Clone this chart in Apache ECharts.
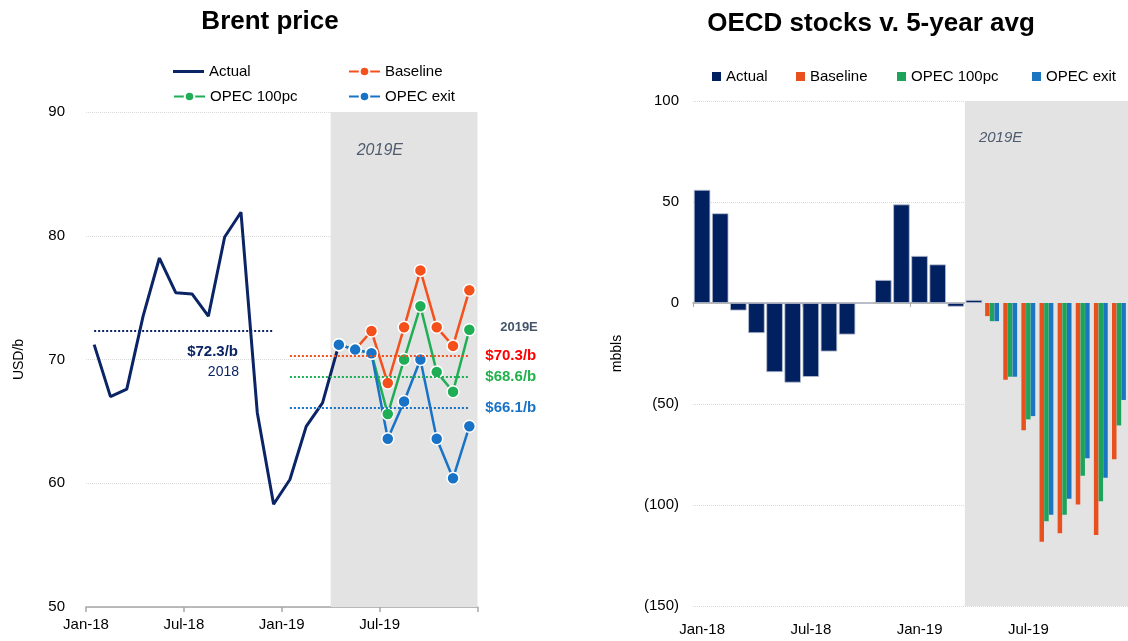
<!DOCTYPE html>
<html>
<head>
<meta charset="utf-8">
<script src="https://cdn.jsdelivr.net/npm/echarts@6/dist/echarts.min.js"></script>
<style>
  html, body { margin: 0; padding: 0; background: #fff; }
  #main { width: 1128px; height: 641px; }
</style>
</head>
<body>
<div id="main"></div>
<script>
var months = ['Jan-18', 'Feb-18', 'Mar-18', 'Apr-18', 'May-18', 'Jun-18', 'Jul-18', 'Aug-18', 'Sep-18', 'Oct-18', 'Nov-18', 'Dec-18',
  'Jan-19', 'Feb-19', 'Mar-19', 'Apr-19', 'May-19', 'Jun-19', 'Jul-19', 'Aug-19', 'Sep-19', 'Oct-19', 'Nov-19', 'Dec-19'];
var tickLabels = ['Jan-18', 'Jul-18', 'Jan-19', 'Jul-19', ''];

// Brent price, USD/b
var brentActual = [71.2, 67.0, 67.6, 73.5, 78.2, 75.4, 75.3, 73.5, 79.9, 81.9, 65.7, 58.3, 60.3, 64.6, 66.5, 71.2];
var brentBaseline = [null, null, null, null, null, null, null, null, null, null, null, null, null, null, null, 71.2, 70.8, 72.3, 68.1, 72.6, 77.2, 72.6, 71.1, 75.6];
var brent100pc = [null, null, null, null, null, null, null, null, null, null, null, null, null, null, null, 71.2, 70.8, 70.5, 65.6, 70.0, 74.3, 69.0, 67.4, 72.4];
var brentExit = [null, null, null, null, null, null, null, null, null, null, null, null, null, null, null, 71.2, 70.8, 70.5, 63.6, 66.6, 70.0, 63.6, 60.4, 64.6];
var avg2018 = 72.3;
var avg2019 = [70.3, 68.6, 66.1];

// OECD stocks v. 5-year avg, mbbls
var stockActual = [56, 44.4, -3.7, -14.9, -34.2, -39.4, -36.6, -24.0, -15.6, 0, 11.4, 48.8, 23.3, 19.1, -1.8, 1.5, null, null, null, null, null, null, null, null];
var stockBaseline = [null, null, null, null, null, null, null, null, null, null, null, null, null, null, null, null, -6.5, -38, -63, -118.2, -114, -99.7, -114.9, -77.4];
var stock100pc = [null, null, null, null, null, null, null, null, null, null, null, null, null, null, null, null, -9, -36.5, -57.6, -108, -104.8, -85.5, -98.2, -60.6];
var stockExit = [null, null, null, null, null, null, null, null, null, null, null, null, null, null, null, null, -9, -36.5, -56, -104.8, -96.9, -76.9, -86.5, -48];

var NAVY = '#0b2466';
var ORANGE = '#f4501c';
var GREEN = '#1fae55';
var BLUE = '#1872c6';
var FONT = 'Liberation Sans, Arial, sans-serif';

function pts(arr) {
  return arr.map(function (v, i) { return [i + 0.5, v]; });
}

function avgLine(v, color, text, labelColor) {
  return {
    silent: true,
    symbol: 'none',
    lineStyle: { color: color, type: 'dotted', width: 2 },
    label: {
      show: !!text, position: 'end', distance: 16, formatter: text || '',
      color: labelColor, fontFamily: FONT, fontSize: 15, fontWeight: 'bold'
    },
    data: [[{ coord: [12.5, v] }, { coord: [23.5, v] }]]
  };
}

function lineLegend(item, left, top, h) {
  return {
    data: [item], left: left, top: top, itemWidth: 31, itemHeight: h || 12,
    textStyle: { fontFamily: FONT, fontSize: 15, color: '#000' }, selectedMode: false
  };
}
function barLegend(name, left) {
  return {
    data: [{ name: name, icon: 'rect' }], left: left, top: 64, itemWidth: 9, itemHeight: 9, itemGap: 5,
    itemStyle: { borderWidth: 0 },
    textStyle: { fontFamily: FONT, fontSize: 15, color: '#000' }, selectedMode: false
  };
}

var chart = echarts.init(document.getElementById('main'));
var lineMarker = { symbol: 'circle', symbolSize: 12 };

var option = {
  animation: false,
  title: [
    { text: 'Brent price', left: 265, top: 4, textAlign: 'center', textStyle: { fontFamily: FONT, fontSize: 26, fontWeight: 'bold', color: '#000' } },
    { text: 'OECD stocks v. 5-year avg', left: 866, top: 6, textAlign: 'center', textStyle: { fontFamily: FONT, fontSize: 26, fontWeight: 'bold', color: '#000' } }
  ],
  legend: [
    lineLegend({ name: 'Actual', icon: 'rect' }, 168, 59, 3),
    lineLegend('Baseline', 343, 59),
    lineLegend('OPEC 100pc', 168, 84),
    lineLegend('OPEC exit', 343, 84),
    barLegend('Actual ', 707),
    barLegend('Baseline ', 791),
    barLegend('OPEC 100pc ', 892),
    barLegend('OPEC exit ', 1027)
  ],
  grid: [
    { left: 86, top: 112, width: 391.5, height: 495 },
    { left: 693, top: 101, width: 435, height: 505 }
  ],
  xAxis: [
    {
      type: 'value', gridIndex: 0, min: 0, max: 24, interval: 6,
      axisLine: { lineStyle: { color: '#a6a6a6', width: 1.5 } },
      axisTick: { show: true, length: 5, lineStyle: { color: '#a6a6a6', width: 1.5 } },
      splitLine: { show: false },
      axisLabel: {
        fontFamily: FONT, fontSize: 15, color: '#000', margin: 10, showMaxLabel: true,
        formatter: function (v) { return tickLabels[Math.round(v / 6)]; }
      }
    },
    {
      type: 'category', gridIndex: 1, data: months, position: 'bottom',
      axisLine: { onZero: true, lineStyle: { color: '#a6a6a6', width: 1.5 } },
      axisTick: { show: true, interval: 5, length: 4, lineStyle: { color: '#a6a6a6' } },
      axisLabel: { show: false }
    },
    {
      type: 'category', gridIndex: 1, data: months, position: 'bottom',
      axisLine: { show: false, onZero: false },
      axisTick: { show: false },
      axisLabel: { interval: 5, fontFamily: FONT, fontSize: 15, color: '#000', margin: 16 }
    },
    { type: 'value', gridIndex: 1, min: 0, max: 24, show: false }
  ],
  yAxis: [
    {
      type: 'value', gridIndex: 0, min: 50, max: 90, interval: 10,
      name: 'USD/b', nameLocation: 'middle', nameRotate: 90, nameGap: 60,
      nameTextStyle: { fontFamily: FONT, fontSize: 14, color: '#000' },
      axisLine: { show: false }, axisTick: { show: false },
      splitLine: { lineStyle: { color: '#d9d9d9', type: 'dotted' } },
      axisLabel: { fontFamily: FONT, fontSize: 15, color: '#000', margin: 21 }
    },
    {
      type: 'value', gridIndex: 1, min: -150, max: 100, interval: 50,
      name: 'mbbls', nameLocation: 'middle', nameRotate: 90, nameGap: 69,
      nameTextStyle: { fontFamily: FONT, fontSize: 14, color: '#000' },
      axisLine: { show: false }, axisTick: { show: false },
      splitLine: { lineStyle: { color: '#d9d9d9', type: 'dotted' } },
      axisLabel: {
        fontFamily: FONT, fontSize: 15, color: '#000', margin: 14,
        formatter: function (v) { return v < 0 ? '(' + (-v) + ')' : String(v); }
      }
    }
  ],
  graphic: [
    { type: 'text', style: { text: '$72.3/b', x: 238, y: 352, textAlign: 'right', textVerticalAlign: 'middle', fill: NAVY, font: 'bold 15px ' + FONT } },
    { type: 'text', style: { text: '2018', x: 239, y: 372, textAlign: 'right', textVerticalAlign: 'middle', fill: NAVY, font: '14px ' + FONT } },
    { type: 'text', style: { text: '2019E', x: 519, y: 327, textAlign: 'center', textVerticalAlign: 'middle', fill: '#44546a', font: 'bold 13px ' + FONT } }
  ],
  series: [
    {
      type: 'line', xAxisIndex: 0, yAxisIndex: 0, z: -1, data: [], silent: true,
      markArea: {
        silent: true,
        itemStyle: { color: '#e3e3e3' },
        label: { show: true, position: [26, 31], formatter: '2019E', color: '#4f5b6e', fontFamily: FONT, fontSize: 16, fontStyle: 'italic' },
        data: [[{ xAxis: 15 }, { xAxis: 24 }]]
      }
    },
    {
      name: 'Actual', type: 'line', xAxisIndex: 0, yAxisIndex: 0, data: pts(brentActual),
      symbol: 'none', lineStyle: { color: NAVY, width: 3 }, itemStyle: { color: NAVY },
      markLine: {
        silent: true, symbol: 'none',
        lineStyle: { color: NAVY, type: 'dotted', width: 2 },
        label: { show: false },
        data: [[{ coord: [0.5, avg2018] }, { coord: [11.5, avg2018] }]]
      }
    },
    Object.assign({
      name: 'Baseline', type: 'line', xAxisIndex: 0, yAxisIndex: 0, data: pts(brentBaseline),
      lineStyle: { color: ORANGE, width: 2.5 }, itemStyle: { color: ORANGE, borderColor: '#fff', borderWidth: 1.5 },
      markLine: avgLine(avg2019[0], ORANGE, '$' + avg2019[0] + '/b', '#ff0000')
    }, lineMarker),
    Object.assign({
      name: 'OPEC 100pc', type: 'line', xAxisIndex: 0, yAxisIndex: 0, data: pts(brent100pc),
      lineStyle: { color: GREEN, width: 2.5 }, itemStyle: { color: GREEN, borderColor: '#fff', borderWidth: 1.5 },
      markLine: avgLine(avg2019[1], GREEN, '$' + avg2019[1] + '/b', '#22b14c')
    }, lineMarker),
    Object.assign({
      name: 'OPEC exit', type: 'line', xAxisIndex: 0, yAxisIndex: 0, data: pts(brentExit),
      lineStyle: { color: BLUE, width: 2.5 }, itemStyle: { color: BLUE, borderColor: '#fff', borderWidth: 1.5 },
      markLine: avgLine(avg2019[2], BLUE, '$' + avg2019[2] + '/b', BLUE)
    }, lineMarker),

    {
      type: 'line', xAxisIndex: 3, yAxisIndex: 1, z: -1, data: [], silent: true,
      markArea: {
        silent: true,
        itemStyle: { color: '#e3e3e3' },
        label: { show: true, position: [14, 29], formatter: '2019E', color: '#4f5b6e', fontFamily: FONT, fontSize: 15, fontStyle: 'italic' },
        data: [[{ xAxis: 15 }, { xAxis: 24 }]]
      }
    },
    {
      name: 'Actual ', type: 'bar', xAxisIndex: 1, yAxisIndex: 1, data: stockActual,
      barCategoryGap: '9%', itemStyle: { color: '#002060', borderColor: '#b9c0d0', borderWidth: 0.8 }
    },
    {
      name: 'Baseline ', type: 'bar', xAxisIndex: 2, yAxisIndex: 1, data: stockBaseline,
      barWidth: 4.5, barGap: '4%', itemStyle: { color: '#e8501e' }
    },
    {
      name: 'OPEC 100pc ', type: 'bar', xAxisIndex: 2, yAxisIndex: 1, data: stock100pc,
      barWidth: 4.5, barGap: '4%', itemStyle: { color: '#1ea35a' }
    },
    {
      name: 'OPEC exit ', type: 'bar', xAxisIndex: 2, yAxisIndex: 1, data: stockExit,
      barWidth: 4.5, barGap: '4%', itemStyle: { color: '#1b75c1' }
    }
  ]
};
chart.setOption(option);
</script>
</body>
</html>
